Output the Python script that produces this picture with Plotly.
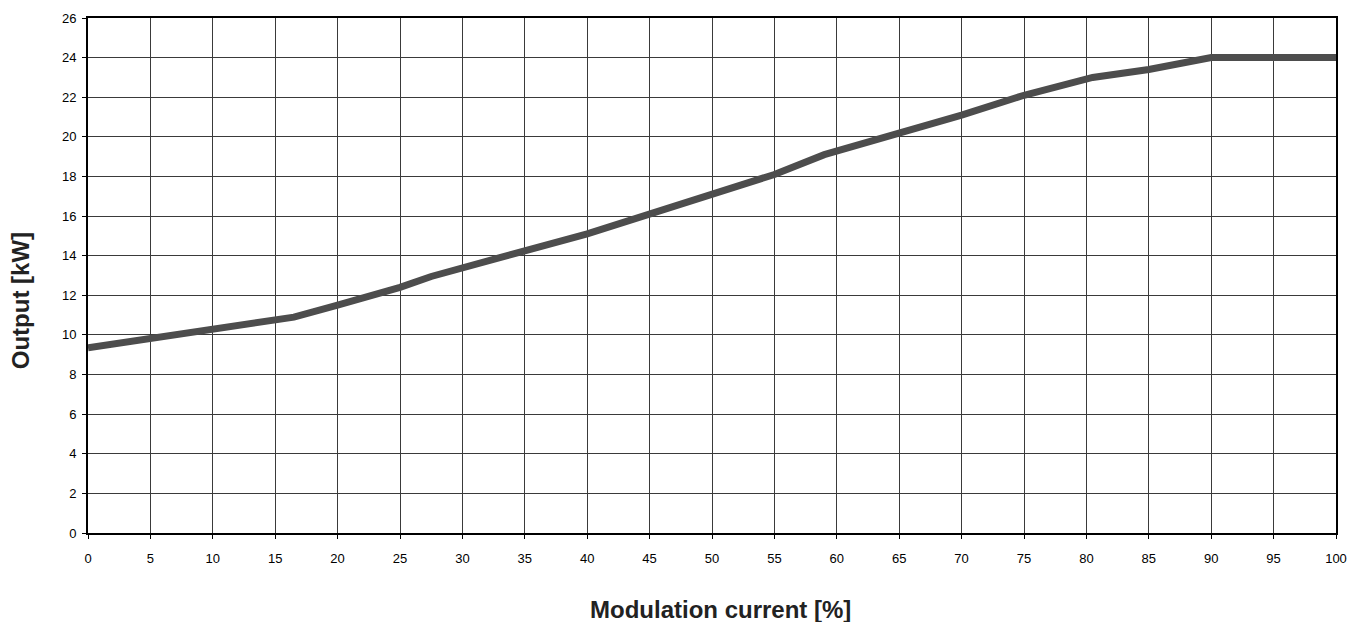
import plotly.graph_objects as go

modulation = [0, 5, 10, 16.5, 20, 25, 27.5, 30, 33, 40, 45, 50, 55, 59, 64, 70, 75, 80.5, 85, 90, 100]
output_kw = [9.35, 9.8, 10.3, 10.9, 11.5, 12.4, 12.95, 13.35, 13.9, 15.1, 16.1, 17.1, 18.1, 19.1, 20.0, 21.1, 22.1, 23.0, 23.4, 24.0, 24.0]

x_ticks = list(range(0, 101, 5))
y_ticks = list(range(0, 27, 2))

FONT = "Liberation Sans, Arial"

fig = go.Figure()
fig.add_trace(go.Scatter(
    x=modulation,
    y=output_kw,
    mode="lines",
    line={"color": "#4d4d4d", "width": 7},
    showlegend=False,
))

axis_style = dict(
    showline=True,
    linecolor="black",
    linewidth=2,
    mirror=True,
    showgrid=True,
    gridcolor="#3a3a3a",
    gridwidth=1,
    ticks="outside",
    ticklen=4,
    tickcolor="black",
    tickfont={"family": FONT, "size": 13, "color": "black"},
    zeroline=False,
    automargin=False,
)

fig.update_xaxes(range=[0, 100], tickvals=x_ticks, ticklabelstandoff=8, **axis_style)
fig.update_yaxes(range=[0, 26], tickvals=y_ticks, ticklabelstandoff=3, **axis_style)

# axis titles placed as annotations for exact positioning
fig.add_annotation(
    text="<b>Modulation current [%]</b>",
    xref="paper", yref="paper", x=0.507, y=-0.1476,
    xanchor="center", yanchor="middle", showarrow=False,
    font={"family": FONT, "size": 24, "color": "#222"},
)
fig.add_annotation(
    text="<b>Output [kW]</b>",
    xref="paper", yref="paper", x=-0.0545, y=0.452,
    xanchor="center", yanchor="middle", showarrow=False, textangle=-90,
    font={"family": FONT, "size": 24, "color": "#222"},
)

fig.update_layout(
    width=1351,
    height=622,
    margin={"l": 88, "r": 15, "t": 18, "b": 89},
    plot_bgcolor="white",
    paper_bgcolor="white",
    font={"family": FONT},
)

# drop the browser's default body margin so the figure sits at the page corner
fig.write_html(
    "out.html",
    config={"displayModeBar": False},
    post_script="document.body.style.margin = '0px';",
)
